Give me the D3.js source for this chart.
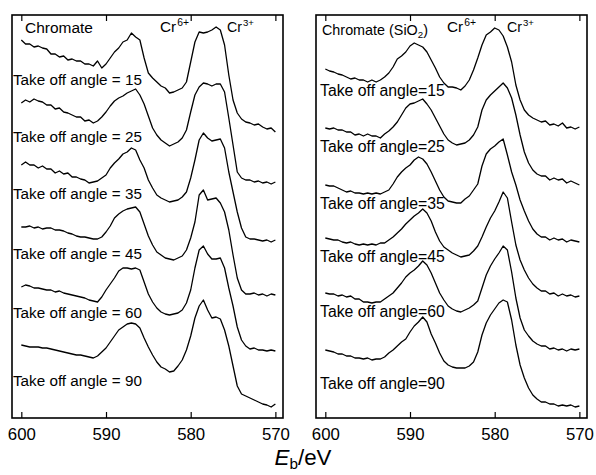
<!DOCTYPE html>
<html>
<head>
<meta charset="utf-8">
<script src="https://cdn.jsdelivr.net/npm/d3@7/dist/d3.min.js"></script>
<style>
  body { margin: 0; background: #fff; }
  text { font-family: "Liberation Sans", Arial, Helvetica, sans-serif; fill: #000; }
</style>
</head>
<body>
<svg id="chart" width="596" height="475"></svg>
<script>
// Binding energy grid (eV), 0.5 eV steps from 600 down to 570
const energies = d3.range(61).map(i => 600 - i * 0.5);
const ticks = [600, 590, 580, 570];
const angles = [15, 25, 35, 45, 60, 90];

// Cr 2p spectra, chromate film (stacked intensity, arb. units)
const chromate15 = [380,376,376,373,374,372,371,366,366,363,364,360,361,359,359,356,356,354,359,352,356,362,368,372,378,380,387,383,380,362,347,342,338,334,332,327,328,330,332,338,358,378,388,387,388,390,393,390,375,345,320,307,301,298,297,295,296,293,291,292,288];
const chromate25 = [317,320,318,321,319,318,315,315,311,312,308,307,305,303,303,299,300,297,299,303,308,314,319,322,324,327,329,331,325,316,304,292,285,280,277,274,276,278,282,290,308,325,333,337,336,334,336,336,328,302,275,248,242,240,240,238,239,237,238,236,238];
const chromate35 = [255,258,255,255,252,254,251,251,247,249,246,247,243,243,241,240,237,238,239,242,245,252,257,261,266,268,272,270,260,252,240,232,225,222,220,218,219,220,223,228,242,260,280,287,282,279,280,281,272,248,228,208,192,183,181,181,180,179,180,178,180];
const chromate45 = [193,193,194,192,193,191,192,192,190,190,189,187,186,184,183,183,182,181,181,183,188,194,202,206,209,211,212,213,208,196,184,175,168,165,162,161,160,162,164,170,182,198,225,230,220,221,222,217,208,190,165,142,130,126,126,127,125,126,124,126,125];
const chromate60 = [133,135,134,132,132,131,130,130,128,129,127,126,125,124,123,122,120,119,118,123,130,136,142,149,152,152,151,152,150,138,126,118,112,108,106,105,106,107,110,117,130,152,170,174,166,161,161,162,152,132,114,93,80,74,71,72,70,70,69,70,69];
const chromate90 = [75,74,73,73,73,72,72,71,70,69,68,67,66,65,65,64,63,62,64,68,72,78,84,90,93,96,97,96,92,82,73,65,58,53,51,48,49,54,60,70,84,102,114,120,110,102,103,101,90,74,54,34,26,24,22,20,18,16,15,13,16];

// Cr 2p spectra, chromate film on SiO2
const silica15 = [351,349,348,346,345,343,341,342,340,340,338,340,338,340,343,347,353,361,364,368,374,377,375,373,368,360,352,343,337,333,333,332,330,334,340,350,362,375,385,388,392,390,384,373,358,335,320,310,305,302,300,298,299,295,296,294,297,292,293,291,293];
const silica25 = [292,291,292,290,290,288,288,285,286,284,286,284,284,282,286,289,293,298,305,312,316,317,319,321,316,310,302,294,286,280,277,275,276,277,280,285,293,310,320,325,329,333,337,332,322,305,285,268,257,250,246,244,244,240,242,240,241,237,239,237,235];
const silica35 = [235,234,234,232,230,228,229,227,227,226,227,226,227,226,228,230,236,243,248,252,255,260,263,261,256,248,239,230,223,219,218,217,217,221,224,230,236,254,266,271,274,278,281,265,248,235,220,209,199,191,186,183,183,180,182,180,181,178,180,179,178];
const silica45 = [182,181,180,180,178,177,178,176,175,176,175,176,175,177,177,180,183,187,191,196,200,204,207,211,207,199,188,179,173,170,167,165,163,164,165,169,174,183,193,202,209,218,228,222,198,175,160,150,142,136,132,129,129,126,127,124,126,124,125,123,124];
const silica60 = [127,126,126,124,125,123,124,121,121,118,118,117,118,118,121,124,127,132,137,143,147,150,154,159,155,147,137,127,120,114,111,109,108,110,112,115,119,132,145,154,161,167,174,170,148,122,102,90,84,79,76,74,74,71,72,70,71,69,71,70,71];
const silica90 = [70,69,68,66,66,64,64,62,62,61,62,60,61,61,63,67,70,74,78,81,88,94,98,103,98,86,77,67,59,55,53,52,52,52,54,58,68,85,97,105,111,117,120,118,100,75,55,42,32,25,21,18,18,16,16,14,15,14,15,13,14];

const panels = [
  { title: "Chromate", sub: null, titleW: 68, series: [chromate15, chromate25, chromate35, chromate45, chromate60, chromate90],
    x0: 12, x1: 283, eq: " = ", labelX: 13, labelW: 129, labelY: [85, 142, 199, 259, 318, 386], titleX: 25, titleY: 33,
    cr6: 160, cr3: 227 },
  { title: "Chromate (SiO", sub: "2", titleW: 106, series: [silica15, silica25, silica35, silica45, silica60, silica90],
    x0: 316, x1: 587, eq: "=", labelX: 320, labelW: 125, labelY: [96, 152, 209, 262, 317, 389], titleX: 322, titleY: 35,
    cr6: 447, cr3: 507 }
];

const frameTop = 15, frameBottom = 418;
const svg = d3.select("#chart");
const y = d3.scaleLinear().domain([0, 405]).range([420, 15]);

// scale a text element (and its sized tspans) so that it spans the given width
function fitWidth(sel, width) {
  sel.each(function () {
    const t = d3.select(this);
    const k = width / this.getComputedTextLength();
    t.attr("font-size", +t.attr("font-size") * k);
    t.selectAll("tspan[font-size]").each(function () {
      const s = d3.select(this);
      s.attr("font-size", +s.attr("font-size") * k);
    });
  });
}

panels.forEach(p => {
  const x = d3.scaleLinear().domain([601.1, 569.1]).range([p.x0, p.x1]);
  const g = svg.append("g");

  // spectra
  const line = d3.line().x((d, i) => x(energies[i])).y(d => y(d));
  g.selectAll("path.spec").data(p.series).join("path")
    .attr("class", "spec")
    .attr("d", line)
    .attr("fill", "none")
    .attr("stroke", "#000")
    .attr("stroke-width", 1.3)
    .attr("stroke-linejoin", "round");

  // frame
  g.append("rect")
    .attr("x", p.x0).attr("y", frameTop)
    .attr("width", p.x1 - p.x0).attr("height", frameBottom - frameTop)
    .attr("fill", "none").attr("stroke", "#000").attr("stroke-width", 1.6);

  // inward ticks on bottom and top edges
  const axB = d3.axisBottom(x).tickValues(ticks).tickSize(-6).tickFormat(d3.format("d")).tickPadding(10);
  const gb = g.append("g").attr("transform", `translate(0,${frameBottom})`).call(axB);
  gb.select(".domain").remove();
  gb.selectAll(".tick line").attr("stroke", "#000").attr("stroke-width", 1.2);
  gb.selectAll(".tick text").attr("font-size", 17).attr("fill", "#000")
    .attr("font-family", '"Liberation Sans", Arial, sans-serif');
  fitWidth(gb.selectAll(".tick text"), 28);

  const axT = d3.axisTop(x).tickValues(ticks).tickSize(-6).tickFormat("");
  const gt = g.append("g").attr("transform", `translate(0,${frameTop})`).call(axT);
  gt.select(".domain").remove();
  gt.selectAll(".tick line").attr("stroke", "#000").attr("stroke-width", 1.2);

  // panel title
  const t = g.append("text").attr("x", p.titleX).attr("y", p.titleY).attr("font-size", 15.5);
  t.append("tspan").text(p.title);
  if (p.sub) {
    t.append("tspan").attr("font-size", 10.5).attr("dy", 3).text(p.sub);
    t.append("tspan").attr("dy", -3).text(")");
  }
  fitWidth(t, p.titleW);

  // peak labels
  [[p.cr6, "6+", 28], [p.cr3, "3+", 26]].forEach(([cx, sup, w]) => {
    const c = g.append("text").attr("x", cx).attr("y", 32).attr("font-size", 15.5);
    c.append("tspan").text("Cr");
    c.append("tspan").attr("font-size", 10.5).attr("dy", -6).attr("dx", 1).text(sup);
    fitWidth(c, w);
  });

  // take-off angle labels
  const labels = g.selectAll("text.angle").data(angles).join("text")
    .attr("class", "angle")
    .attr("x", p.labelX)
    .attr("y", (d, i) => p.labelY[i])
    .attr("font-size", 15)
    .text(d => `Take off angle${p.eq}${d}`);
  fitWidth(labels, p.labelW);
});

// energy axis title
const xt = svg.append("text").attr("x", 303).attr("y", 465).attr("text-anchor", "middle").attr("font-size", 19);
xt.append("tspan").attr("font-style", "italic").text("E");
xt.append("tspan").attr("font-size", 13).attr("dy", 4).text("b");
xt.append("tspan").attr("dy", -4).text("/eV");
fitWidth(xt, 57);
</script>
</body>
</html>
